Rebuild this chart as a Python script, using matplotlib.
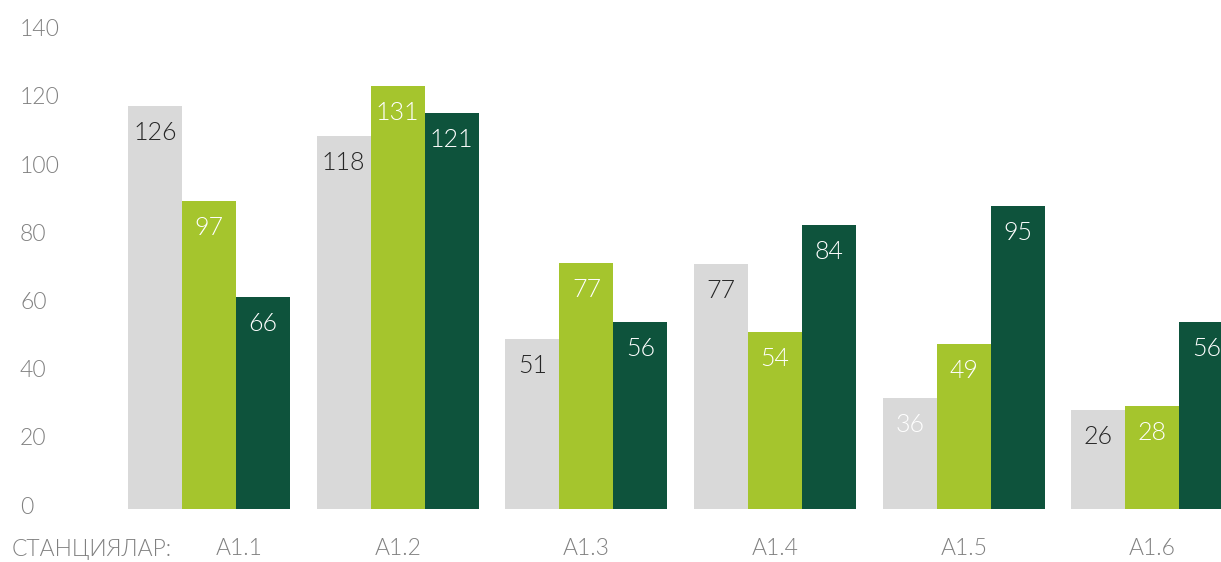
import matplotlib
matplotlib.use("Agg")
import matplotlib.pyplot as plt
import matplotlib.transforms as mtransforms
import numpy as np

plt.rcParams['font.family'] = ['Lato', 'DejaVu Sans']
plt.rcParams['font.weight'] = 300

categories = ["A1.1", "A1.2", "A1.3", "A1.4", "A1.5", "A1.6"]
axis_title = "СТАНЦИЯЛАР:"
# bar heights as drawn in the picture
grey_heights = [118.2, 109.4, 49.9, 71.8, 32.6, 29.0]
green_heights = [90.3, 124.0, 72.1, 51.9, 48.4, 30.2]
dark_heights = [62.2, 116.1, 54.8, 83.3, 88.9, 54.8]
# value labels as printed in the picture
grey_labels = [126, 118, 51, 77, 36, 26]
green_labels = [97, 131, 77, 54, 49, 28]
dark_labels = [66, 121, 56, 84, 95, 56]
yticks = [0, 20, 40, 60, 80, 100, 120, 140]

W, H = 1221, 562
DPI = 100
fig = plt.figure(figsize=(W / DPI, H / DPI), dpi=DPI)

ax_left_px, ax_right_px = 100, 1221
ax_bottom_px, ax_top_px = 509, 31.6
ax = fig.add_axes([ax_left_px / W, (H - ax_bottom_px) / H,
                   (ax_right_px - ax_left_px) / W, (ax_bottom_px - ax_top_px) / H])

grp_px = 188.7
c0_px = 209
ax.set_xlim((ax_left_px - c0_px) / grp_px, (ax_right_px - c0_px) / grp_px)
ax.set_ylim(0, 140)

x = np.arange(len(categories))
w = 54 / grp_px
c_grey = "#D9D9D9"
c_green = "#A5C52D"
c_dark = "#0E533C"

series = [
    (grey_heights, grey_labels, c_grey, -w),
    (green_heights, green_labels, c_green, 0),
    (dark_heights, dark_labels, c_dark, w),
]
for heights, labels, color, off in series:
    bars = ax.bar(x + off, heights, width=w, color=color, linewidth=0, clip_on=True)
    for i, (b, lab) in enumerate(zip(bars, labels)):
        if color == c_grey:
            tcol = "#FFFFFF" if lab == 36 else "#262626"
        else:
            tcol = "#FFFFFF"
        ax.annotate(str(lab), xy=(b.get_x() + b.get_width() / 2, b.get_height()),
                    xytext=(0, -24.3), textcoords="offset points",
                    ha="center", va="baseline", fontsize=18, color=tcol,
                    fontweight=300)

for s in ax.spines.values():
    s.set_visible(False)

ax.set_yticks(yticks)
ax.set_yticklabels([str(v) for v in yticks])
ax.tick_params(axis='y', length=0, pad=(ax_left_px - 20) * 72 / DPI,
               labelsize=16.5, labelcolor="#808080")
yoff = mtransforms.ScaledTranslation(0, 4 / DPI, fig.dpi_scale_trans)
for lab in ax.get_yticklabels():
    lab.set_ha('left')
    lab.set_fontweight(300)
    lab.set_transform(lab.get_transform() + yoff)

ax.set_xticks(x)
ax.set_xticklabels(categories)
ax.tick_params(axis='x', length=0, pad=21, labelsize=16.5, labelcolor="#808080")
xl = ax.get_xticklabels()
for lab in xl:
    lab.set_fontweight(300)
xoff = mtransforms.ScaledTranslation(30 / DPI, 0, fig.dpi_scale_trans)
xl[0].set_transform(xl[0].get_transform() + xoff)

fig.text(12 / W, 1 - 549 / H, axis_title, ha="left", va="center",
         fontsize=16.5, color="#808080", fontweight=300)

fig.savefig("out.png", dpi=DPI)
